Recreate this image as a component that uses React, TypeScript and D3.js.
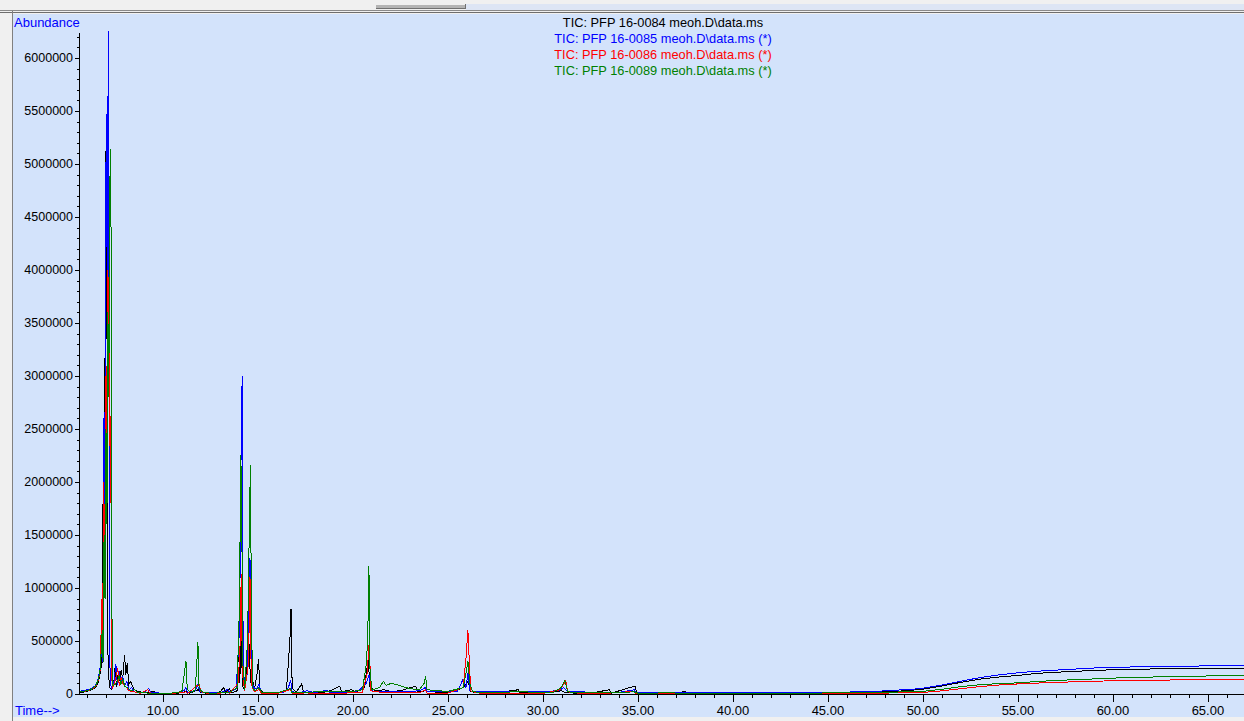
import React from 'react';
import * as d3 from 'd3';

// TIC chromatograms: [time (min), abundance]
const tic0084: [number, number][] = [
  [5.6, 15000], [5.9, 20000], [6.2, 35000], [6.45, 60000], [6.6, 110000], [6.7, 200000], [6.75, 660000], [6.79, 250000],
  [6.84, 1790000], [6.87, 900000], [6.91, 3170000], [6.94, 2000000], [6.97, 4560000], [7.02, 5430000], [7.06, 3000000],
  [7.1, 400000], [7.15, 150000], [7.2, 60000], [7.3, 40000], [7.4, 80000], [7.48, 250000], [7.55, 70000], [7.65, 200000],
  [7.72, 120000], [7.8, 230000], [7.88, 140000], [7.98, 370000], [8.04, 180000], [8.12, 290000], [8.2, 90000], [8.3, 120000],
  [8.45, 50000], [8.6, 30000], [8.9, 15000], [9.2, 10000], [9.5, 25000], [9.7, 8000], [10.2, 6000], [10.6, 8000], [11.0, 10000],
  [11.2, 25000], [11.4, 8000], [11.85, 40000], [12.0, 10000], [12.6, 8000], [13.0, 20000], [13.2, 60000], [13.3, 10000],
  [13.5, 50000], [13.6, 10000], [13.9, 30000], [13.98, 470000], [14.04, 100000], [14.12, 577000], [14.18, 80000], [14.3, 40000],
  [14.55, 470000], [14.6, 100000], [14.68, 200000], [14.8, 30000], [14.95, 190000], [15.03, 330000], [15.1, 50000], [15.3, 15000],
  [15.8, 10000], [16.2, 15000], [16.5, 40000], [16.68, 500000], [16.74, 803000], [16.8, 60000], [17.0, 15000], [17.3, 95000],
  [17.4, 15000], [17.8, 20000], [18.3, 10000], [18.8, 30000], [19.3, 75000], [19.4, 20000], [19.9, 40000], [20.2, 20000],
  [20.6, 60000], [20.8, 330000], [20.9, 60000], [21.2, 30000], [21.6, 40000], [22.0, 25000], [22.5, 30000], [23.3, 75000],
  [23.4, 20000], [23.8, 30000], [24.5, 15000], [25.2, 20000], [25.8, 60000], [26.05, 120000], [26.2, 20000], [26.8, 15000],
  [27.5, 10000], [28.7, 40000], [28.8, 10000], [30.0, 10000], [31.0, 30000], [31.2, 10000], [32.5, 8000], [33.5, 40000],
  [33.6, 8000], [34.84, 75000], [34.95, 10000], [36.0, 8000], [37.5, 20000], [37.6, 8000], [39.0, 6000], [41.2, 15000],
  [41.3, 6000], [43.0, 8000], [45.0, 10000], [47.0, 15000], [48.0, 20000], [49.0, 30000], [50.0, 45000], [51.0, 75000],
  [52.0, 110000], [53.0, 140000], [54.0, 160000], [55.0, 175000], [56.0, 195000], [57.0, 205000], [58.0, 215000],
  [59.0, 220000], [60.0, 230000], [61.0, 232000], [62.0, 236000], [63.0, 238000], [64.0, 240000], [65.0, 240000],
  [66.0, 242000], [66.9, 242000],
];

const tic0085: [number, number][] = [
  [5.6, 25000], [5.9, 35000], [6.2, 50000], [6.45, 80000], [6.6, 150000], [6.7, 260000], [6.76, 400000], [6.8, 1000000],
  [6.84, 300000], [6.88, 2600000], [6.93, 1200000], [6.97, 4200000], [7.02, 5470000], [7.06, 4000000], [7.1, 5500000],
  [7.14, 6250000], [7.17, 2000000], [7.2, 300000], [7.25, 80000], [7.32, 50000], [7.42, 120000], [7.52, 280000], [7.6, 90000],
  [7.7, 220000], [7.78, 100000], [7.88, 160000], [7.98, 80000], [8.1, 120000], [8.2, 40000], [8.35, 60000], [8.5, 20000],
  [8.8, 10000], [9.1, 25000], [9.25, 55000], [9.35, 15000], [9.6, 10000], [10.3, 8000], [10.8, 10000], [11.1, 30000],
  [11.2, 60000], [11.3, 15000], [11.7, 30000], [11.82, 80000], [11.95, 20000], [12.5, 10000], [13.2, 20000], [13.4, 45000],
  [13.5, 15000], [13.85, 50000], [14.0, 500000], [14.07, 1260000], [14.12, 2500000], [14.17, 3000000], [14.22, 300000],
  [14.3, 60000], [14.45, 200000], [14.58, 1280000], [14.65, 300000], [14.75, 60000], [14.95, 50000], [15.05, 95000],
  [15.15, 20000], [15.6, 10000], [16.3, 10000], [16.6, 60000], [16.72, 130000], [16.8, 20000], [17.2, 15000], [17.6, 30000],
  [18.0, 12000], [18.6, 35000], [18.8, 12000], [19.6, 15000], [20.3, 30000], [20.7, 100000], [20.85, 180000], [20.95, 30000],
  [21.4, 20000], [22.0, 25000], [22.6, 20000], [23.5, 30000], [23.8, 60000], [23.9, 20000], [24.8, 20000], [25.5, 25000],
  [25.8, 140000], [25.95, 60000], [26.05, 200000], [26.15, 30000], [26.5, 20000], [27.0, 25000], [28.0, 20000], [29.0, 25000],
  [30.0, 25000], [30.8, 30000], [31.1, 60000], [31.3, 25000], [32.0, 20000], [33.0, 15000], [34.0, 15000], [34.8, 40000],
  [34.9, 12000], [36.0, 10000], [38.0, 10000], [40.0, 12000], [42.0, 12000], [44.0, 14000], [46.0, 18000], [47.5, 25000],
  [48.5, 35000], [49.5, 45000], [50.0, 55000], [51.0, 85000], [52.0, 120000], [53.0, 155000], [54.0, 180000], [55.0, 200000],
  [56.0, 215000], [57.0, 225000], [58.0, 235000], [59.0, 245000], [60.0, 252000], [61.0, 255000], [62.0, 258000],
  [63.0, 262000], [64.0, 263000], [65.0, 265000], [66.0, 267000], [66.9, 268000],
];

const tic0086: [number, number][] = [
  [5.6, 18000], [5.9, 25000], [6.2, 40000], [6.45, 70000], [6.6, 130000], [6.7, 230000], [6.78, 900000], [6.82, 400000],
  [6.88, 2000000], [6.93, 1000000], [6.98, 3000000], [7.03, 2200000], [7.08, 4000000], [7.12, 2800000], [7.18, 4500000],
  [7.22, 1800000], [7.26, 2620000], [7.29, 200000], [7.34, 60000], [7.45, 100000], [7.55, 180000], [7.62, 240000],
  [7.7, 80000], [7.8, 160000], [7.9, 90000], [8.05, 70000], [8.2, 30000], [8.5, 20000], [8.8, 8000], [9.2, 40000],
  [9.3, 10000], [9.8, 6000], [10.5, 5000], [11.2, 20000], [11.3, 5000], [11.9, 95000], [12.0, 20000], [12.4, 5000],
  [13.0, 8000], [13.4, 20000], [13.5, 5000], [13.95, 100000], [14.05, 400000], [14.12, 1130000], [14.18, 200000],
  [14.3, 30000], [14.5, 280000], [14.58, 1100000], [14.65, 100000], [14.8, 20000], [15.05, 40000], [15.2, 5000],
  [16.0, 5000], [16.7, 40000], [16.8, 5000], [17.5, 10000], [18.5, 5000], [19.5, 8000], [20.5, 15000], [20.75, 200000],
  [20.85, 480000], [20.95, 30000], [21.5, 15000], [22.0, 10000], [22.5, 15000], [23.5, 10000], [23.8, 40000], [23.9, 8000],
  [25.0, 8000], [25.8, 60000], [25.95, 340000], [26.05, 605000], [26.12, 320000], [26.2, 30000], [26.5, 10000],
  [27.5, 5000], [28.5, 8000], [30.0, 5000], [30.9, 40000], [31.05, 80000], [31.2, 130000], [31.3, 20000], [32.0, 5000],
  [33.5, 8000], [34.8, 25000], [34.9, 4000], [36.0, 3000], [38.0, 4000], [40.0, 3000], [42.0, 4000], [44.0, 5000],
  [46.0, 6000], [47.5, 8000], [48.5, 10000], [49.5, 12000], [50.0, 15000], [51.0, 30000], [52.0, 50000], [53.0, 70000],
  [54.0, 85000], [55.0, 95000], [56.0, 103000], [57.0, 110000], [58.0, 115000], [59.0, 120000], [60.0, 125000],
  [61.0, 128000], [62.0, 130000], [63.0, 132000], [64.0, 134000], [65.0, 135000], [66.0, 136000], [66.9, 137000],
];

const tic0089: [number, number][] = [
  [5.6, 20000], [5.9, 28000], [6.2, 42000], [6.45, 75000], [6.6, 140000], [6.7, 240000], [6.8, 600000], [6.85, 300000],
  [6.9, 1500000], [6.95, 900000], [7.0, 2500000], [7.05, 1600000], [7.1, 3600000], [7.15, 2800000], [7.2, 4800000],
  [7.25, 5140000], [7.29, 3200000], [7.32, 500000], [7.36, 80000], [7.48, 90000], [7.6, 120000], [7.7, 180000],
  [7.78, 90000], [7.88, 140000], [8.0, 70000], [8.15, 60000], [8.3, 30000], [8.5, 45000], [8.65, 15000], [9.0, 10000],
  [9.5, 8000], [10.0, 8000], [10.7, 10000], [11.0, 30000], [11.13, 200000], [11.21, 312000], [11.28, 40000], [11.5, 15000],
  [11.7, 40000], [11.78, 290000], [11.84, 491000], [11.9, 60000], [12.05, 20000], [12.5, 8000], [13.0, 10000],
  [13.5, 15000], [13.9, 60000], [14.02, 800000], [14.1, 2250000], [14.15, 1600000], [14.2, 300000], [14.3, 40000],
  [14.45, 500000], [14.53, 1390000], [14.6, 2160000], [14.66, 700000], [14.72, 60000], [14.85, 30000], [15.05, 60000],
  [15.2, 15000], [16.0, 10000], [16.7, 50000], [16.8, 10000], [17.5, 15000], [18.0, 20000], [18.6, 25000], [19.4, 20000],
  [20.0, 25000], [20.5, 40000], [20.72, 300000], [20.8, 730000], [20.84, 1210000], [20.9, 200000], [21.0, 40000],
  [21.4, 60000], [21.6, 120000], [21.75, 80000], [22.0, 100000], [22.3, 90000], [22.6, 70000], [23.0, 50000],
  [23.5, 40000], [23.75, 100000], [23.82, 170000], [23.9, 40000], [24.5, 30000], [25.0, 25000], [25.8, 60000],
  [25.95, 200000], [26.05, 310000], [26.15, 100000], [26.3, 20000], [27.0, 15000], [28.0, 15000], [28.7, 25000],
  [29.5, 15000], [30.5, 12000], [30.95, 60000], [31.15, 130000], [31.3, 20000], [32.5, 10000], [33.5, 12000],
  [34.8, 20000], [35.0, 8000], [36.5, 10000], [38.0, 8000], [40.0, 8000], [42.0, 8000], [44.0, 9000], [46.0, 10000],
  [47.5, 14000], [48.5, 18000], [49.5, 22000], [50.0, 25000], [51.0, 45000], [52.0, 70000], [53.0, 88000], [54.0, 98000],
  [55.0, 105000], [56.0, 118000], [57.0, 128000], [58.0, 135000], [59.0, 142000], [60.0, 150000], [61.0, 155000],
  [62.0, 160000], [63.0, 163000], [64.0, 166000], [65.0, 170000], [66.0, 172000], [66.9, 175000],
];

const seriesNames = [
  'TIC: PFP 16-0084 meoh.D\\data.ms',
  'TIC: PFP 16-0085 meoh.D\\data.ms (*)',
  'TIC: PFP 16-0086 meoh.D\\data.ms (*)',
  'TIC: PFP 16-0089 meoh.D\\data.ms (*)',
];
const seriesColors = ['#000000', '#0000ff', '#ff0000', '#008000'];
const seriesData = [tic0084, tic0085, tic0086, tic0089];

const xMajorTicks = [10, 15, 20, 25, 30, 35, 40, 45, 50, 55, 60, 65];
const yMajorTicks = [0, 500000, 1000000, 1500000, 2000000, 2500000, 3000000, 3500000, 4000000, 4500000, 5000000, 5500000, 6000000];

const W = 1244;
const H = 721;
const FONT = '"Liberation Sans", Arial, sans-serif';
const BG = '#d3e3fb';

export default function App() {
  const x = d3.scaleLinear().domain([5.58, 66.9]).range([79, 1244]);
  const y = d3.scaleLinear().domain([0, 6000000]).range([694, 58]);

  const line = d3.line<[number, number]>()
    .x(d => x(d[0]))
    .y(d => y(d[1]));

  const xMinor = d3.range(6, 67, 1);
  const yMinor = d3.range(0, 6200001, 100000);

  return (
    <div style={{ position: 'fixed', left: 0, top: 0 }}>
      <svg width={W} height={H} style={{ display: 'block' }} fontFamily={FONT}>
        {/* window frame */}
        <rect x={0} y={0} width={W} height={H} fill="#f0f0f0" />
        <rect x={466} y={4} width={W - 466} height={6} fill="#dde5f4" />
        <rect x={376} y={5} width={90} height={3} fill="#b4b4b4" />
        <line x1={376} x2={466} y1={8.5} y2={8.5} stroke="#707070" />
        <line x1={465.5} x2={465.5} y1={4} y2={9} stroke="#707070" />
        <line x1={0} x2={W} y1={10.5} y2={10.5} stroke="#8a8a8a" />
        <line x1={0} x2={W} y1={12.5} y2={12.5} stroke="#6e6e6e" />
        <rect x={13} y={14} width={W - 13} height={703} fill={BG} />
        <line x1={12.5} x2={12.5} y1={11} y2={H} stroke="#808080" />

        {/* series */}
        <g shapeRendering="crispEdges">
          {seriesData.map((d, i) => (
            <path key={i} d={line(d) || ''} fill="none" stroke={seriesColors[i]} strokeWidth={1} />
          ))}
        </g>

        {/* y axis */}
        <g shapeRendering="crispEdges" stroke="#000">
          <line x1={79.5} x2={79.5} y1={33} y2={694.5} />
          {yMinor.map(v => (
            <line key={'ym' + v} x1={77} x2={79.5} y1={Math.round(y(v)) + 0.5} y2={Math.round(y(v)) + 0.5} />
          ))}
          {yMajorTicks.map(v => (
            <line key={'yM' + v} x1={75} x2={79.5} y1={Math.round(y(v)) + 0.5} y2={Math.round(y(v)) + 0.5} />
          ))}
        </g>
        {yMajorTicks.map(v => (
          <text key={'yl' + v} x={73} y={y(v)} textAnchor="end" dominantBaseline="central" fontSize={12.5} fill="#000">
            {v}
          </text>
        ))}

        {/* x axis */}
        <g shapeRendering="crispEdges" stroke="#000">
          <line x1={79} x2={W} y1={694.5} y2={694.5} />
          {xMinor.map(t => (
            <line key={'xm' + t} x1={Math.round(x(t)) + 0.5} x2={Math.round(x(t)) + 0.5} y1={694.5} y2={698} />
          ))}
          {xMajorTicks.map(t => (
            <line key={'xM' + t} x1={Math.round(x(t)) + 0.5} x2={Math.round(x(t)) + 0.5} y1={694.5} y2={702} />
          ))}
        </g>
        {xMajorTicks.map(t => (
          <text key={'xl' + t} x={x(t)} y={710} textAnchor="middle" dominantBaseline="central" fontSize={13} fill="#000">
            {t.toFixed(2)}
          </text>
        ))}

        <text x={14} y={22} dominantBaseline="central" fontSize={13} fill="#0000ff">Abundance</text>
        <text x={15} y={710} dominantBaseline="central" fontSize={13} fill="#0000ff">Time--&gt;</text>

        {/* legend */}
        {seriesNames.map((n, i) => (
          <text key={n} x={663} y={22.5 + i * 16} textAnchor="middle" dominantBaseline="central" fontSize={12.8} fill={seriesColors[i]}>
            {n}
          </text>
        ))}
      </svg>
    </div>
  );
}
